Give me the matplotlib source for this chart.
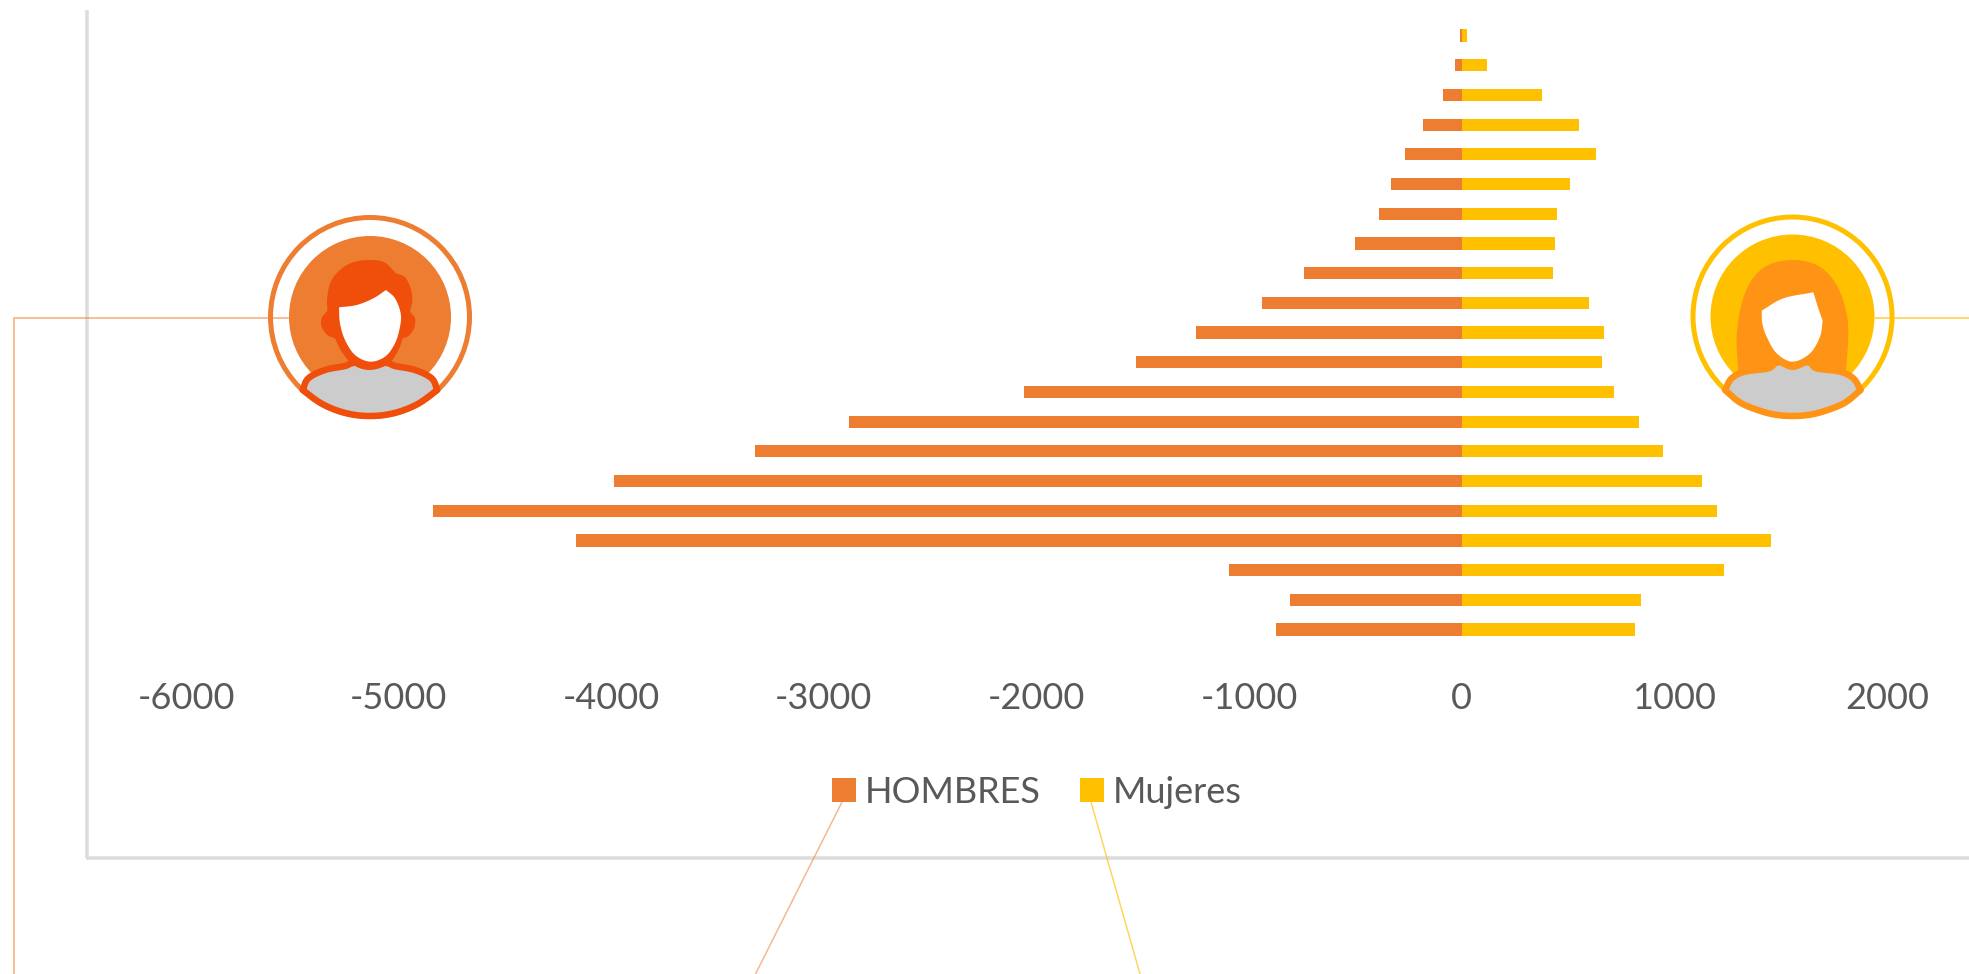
import numpy as np
import matplotlib
matplotlib.use("Agg")
import matplotlib.pyplot as plt
from matplotlib.patches import Circle, Polygon

# Values, top row first
hombres = [-8, -30, -89, -183, -265, -331, -390, -503, -742, -939, -1252,
           -1530, -2061, -2882, -3325, -3987, -4837, -4164, -1093, -809, -874]
mujeres = [25, 118, 379, 552, 633, 511, 450, 437, 430, 597, 667,
           661, 715, 833, 945, 1128, 1199, 1453, 1234, 845, 815]
x_ticks = [-6000, -5000, -4000, -3000, -2000, -1000, 0, 1000, 2000]
series_names = ["HOMBRES", "Mujeres"]

W, H = 1969, 974
ORANGE = "#ED7D31"
YELLOW = "#FFC000"
DARK_ORANGE = "#EF4E0B"
HAIR = "#FF9315"
GREY = "#CCCCCC"
TEXT = "#595959"
FRAME = "#DCDCDC"

plt.rcParams["font.family"] = ["Lato", "DejaVu Sans"]
plt.rcParams["axes.unicode_minus"] = False

fig = plt.figure(figsize=(W / 100, H / 100), dpi=100)

# overlay in pixel coordinates for frame, leader lines and icons
over = fig.add_axes([0, 0, 1, 1], zorder=1)
over.set_xlim(0, W)
over.set_ylim(H, 0)
over.axis("off")

# chart axes: -6000 at x=186, 2000 at x=1887, rows 29.7px apart
ax = fig.add_axes([186 / W, 1 - 644.4 / H, (1887 - 186) / W, 623.7 / H], zorder=2)
ax.patch.set_alpha(0)
rows = np.arange(len(hombres))
b1 = ax.barh(rows, hombres, height=0.41, color=ORANGE, label=series_names[0])
b2 = ax.barh(rows, mujeres, height=0.41, color=YELLOW, label=series_names[1])
ax.set_xlim(-6000, 2000)
ax.set_ylim(len(rows) - 0.5, -0.5)
ax.set_yticks([])
ax.set_xticks(x_ticks)
ax.tick_params(axis="x", length=0, labelsize=26, labelcolor=TEXT, pad=27)
for s in ax.spines.values():
    s.set_visible(False)

fig.legend(handles=[b1, b2], loc="center", bbox_to_anchor=(1037 / W, 1 - 792.5 / H),
           ncol=2, frameon=False, fontsize=26, labelcolor=TEXT,
           handlelength=0.67, handleheight=0.64, handletextpad=0.25, columnspacing=1.08)

px = 0.72  # linewidth of one pixel, in points


def line(xs, ys, color, width=1.0, alpha=1.0):
    over.plot(xs, ys, color=color, lw=width * px, alpha=alpha, solid_capstyle="butt",
              zorder=0.5)


# chart frame
line([87.2, 87.2], [10, 858], FRAME, 3.5)
line([85.5, W], [858, 858], FRAME, 3.5)

# leader lines
line([14.2, 14.2, 290], [H, 318, 318], ORANGE, 1.8, 0.55)
line([1875, W], [318, 318], YELLOW, 1.8, 0.65)
line([842, 755.5], [802, H], ORANGE, 1.5, 0.55)
line([1091, 1140], [802, H], YELLOW, 1.5, 0.65)


def smooth(pts, n=12):
    # Catmull-Rom through the points, for the icon outlines
    p = np.array(pts, float)
    p = np.vstack([2 * p[0] - p[1], p, 2 * p[-1] - p[-2]])
    out = []
    for i in range(1, len(p) - 2):
        for t in np.linspace(0, 1, n, endpoint=False):
            out.append(0.5 * (2 * p[i] + (p[i + 1] - p[i - 1]) * t
                              + (2 * p[i - 1] - 5 * p[i] + 4 * p[i + 1] - p[i + 2]) * t ** 2
                              + (3 * p[i] - p[i - 1] - 3 * p[i + 1] + p[i + 2]) * t ** 3))
    out.append(p[-2])
    return np.array(out)


def shape(parts, origin, **kw):
    # parts are traced at 3x from the crop starting at origin
    xy = np.vstack([smooth(part) for part in parts]) / 3 + origin
    over.add_patch(Polygon(xy, closed=True, **kw))


def badge(center, disc_r, color):
    over.add_patch(Circle(center, disc_r, fc=color, ec="none"))
    over.add_patch(Circle(center, 99.5, fc="none", ec=color, lw=5 * px))


# man icon
o1 = np.array([240, 190])
badge((370, 317), 81, ORANGE)
shape([[(188, 600), (205, 565), (255, 540), (315, 528), (335, 520), (390, 510),
        (445, 520), (465, 528), (525, 540), (575, 565), (592, 600)],
       [(592, 600), (540, 638), (490, 661), (440, 674), (390, 678), (340, 674),
        (290, 661), (240, 638), (188, 600)]],
      o1, fc=GREY, ec=DARK_ORANGE, lw=6.5 * px, joinstyle="round")
shape([[(262, 362), (262, 320), (275, 270), (310, 232), (350, 214), (395, 210),
        (435, 218), (468, 250)],
       [(468, 250), (495, 262), (512, 295), (517, 330), (510, 365)],
       [(510, 365), (525, 385), (522, 415), (505, 438), (488, 445)],
       [(488, 445), (475, 480), (445, 522), (390, 540), (340, 525), (305, 485), (285, 445)],
       [(285, 445), (262, 435), (245, 410), (245, 385), (262, 362)]],
      o1, fc=DARK_ORANGE, ec="none")
shape([[(297, 352), (350, 345), (400, 325), (438, 300)],
       [(438, 300), (465, 325), (482, 370), (480, 410), (465, 460), (435, 500),
        (390, 515), (345, 495), (315, 450), (300, 400), (297, 352)]],
      o1, fc="white", ec="none")

# woman icon
o2 = np.array([1670, 190])
badge((1792.5, 316.5), 82, YELLOW)
shape([[(165, 600), (185, 565), (225, 545), (295, 535), (320, 518), (368, 515),
        (418, 518), (440, 535), (510, 545), (550, 565), (572, 600)],
       [(572, 600), (525, 638), (470, 661), (420, 674), (368, 678), (316, 674),
        (266, 661), (211, 638), (165, 600)]],
      o2, fc=GREY, ec=HAIR, lw=6.5 * px, joinstyle="round")
shape([[(205, 545), (200, 440), (215, 340), (245, 270), (295, 225), (368, 210),
        (440, 225), (490, 270), (522, 340), (535, 420), (528, 545)],
       [(528, 545), (440, 535), (418, 522)],
       [(418, 522), (368, 540), (320, 522)],
       [(320, 522), (297, 535), (205, 545)]],
      o2, fc=HAIR, ec="none")
shape([[(275, 362), (340, 325), (430, 307)],
       [(430, 307), (445, 355), (458, 392)],
       [(458, 392), (450, 440), (420, 490), (368, 515), (320, 490), (290, 440),
        (277, 400), (275, 362)]],
      o2, fc="white", ec="none")

fig.savefig("out.png", dpi=100)
